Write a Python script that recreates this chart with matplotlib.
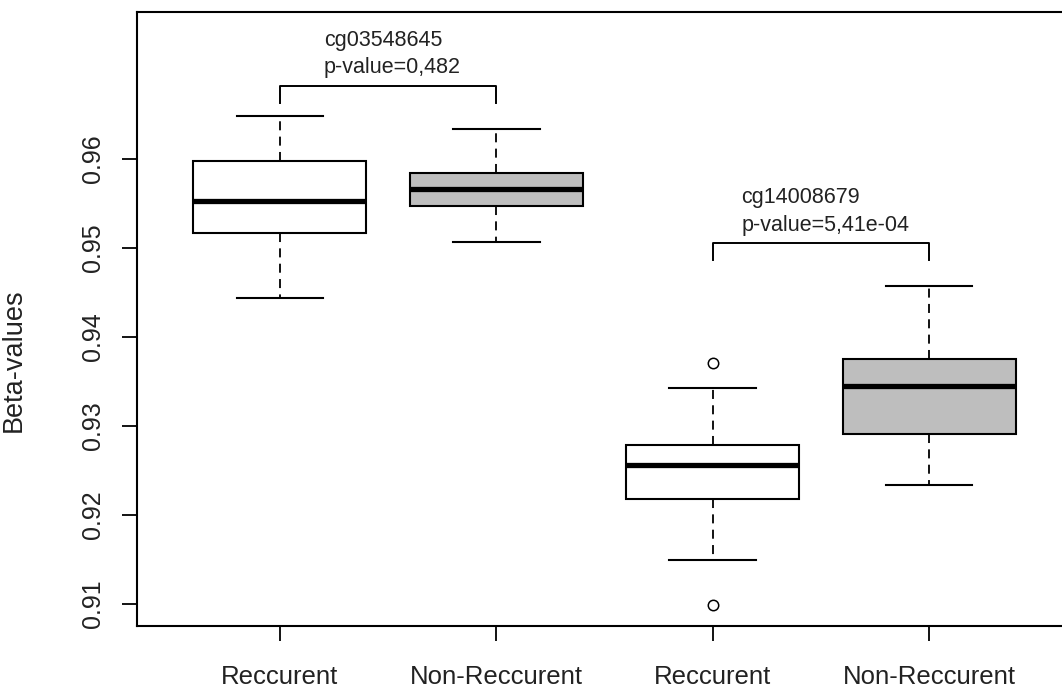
import numpy as np
import matplotlib.pyplot as plt

plt.rcParams['font.family'] = ['Liberation Sans', 'DejaVu Sans']

#%% data
groups   = ['Reccurent', 'Non-Reccurent', 'Reccurent', 'Non-Reccurent']
probes   = ['cg03548645', 'cg14008679']
p_values = ['0,482', '5,41e-04']

whis_lo  = [0.9444, 0.9507, 0.9149, 0.9234]
q1       = [0.9517, 0.9547, 0.9218, 0.9291]
med      = [0.9553, 0.9566, 0.9256, 0.9345]
q3       = [0.9597, 0.9584, 0.9278, 0.9375]
whis_hi  = [0.9648, 0.9634, 0.9343, 0.9457]
outliers = [[], [], [0.9370, 0.9099], []]
fills    = ['white', '#BEBEBE', 'white', '#BEBEBE']

bracket_top  = [0.9682, 0.9505]
bracket_foot = [0.9663, 0.9486]

yticks = [0.91, 0.92, 0.93, 0.94, 0.95, 0.96]

#%% plot
fig = plt.figure(figsize=(10.62, 6.93), dpi=100)
ax = fig.add_axes([137/1062, 67/693, 935/1062, 614/693])

stats = []
for i in range(len(groups)):
    stats.append(dict(med=med[i], q1=q1[i], q3=q3[i],
                      whislo=whis_lo[i], whishi=whis_hi[i], fliers=outliers[i]))

pos = np.arange(1, len(groups) + 1)
bp = ax.bxp(stats, positions=pos, widths=0.8, capwidths=0.4, patch_artist=True,
            boxprops=dict(linewidth=1.5, edgecolor='black'),
            medianprops=dict(color='black', linewidth=3.8, solid_capstyle='butt'),
            whiskerprops=dict(color='black', linewidth=1.3, linestyle=(0, (5, 3.5))),
            capprops=dict(color='black', linewidth=1.5),
            flierprops=dict(marker='o', markersize=7.5, markerfacecolor='none',
                            markeredgecolor='black', markeredgewidth=1.1))
for b, c in zip(bp['boxes'], fills):
    b.set_facecolor(c)

# brackets + labels
for k in range(len(probes)):
    a, b = pos[2*k], pos[2*k + 1]
    ax.plot([a, a, b, b], [bracket_foot[k], bracket_top[k], bracket_top[k], bracket_foot[k]],
            color='black', lw=1.4)
    ax.text((a + b) / 2 + 0.02, bracket_top[k] + 0.0036, probes[k] + '\np-value=' + p_values[k],
            ha='center', va='center', ma='left', fontsize=15.5, linespacing=1.4,
            color='#222222')

ax.set_xlim(0.34, 4.66)
ax.set_ylim(0.9075, 0.9765)
ax.set_xticks(pos)
ax.set_xticklabels(groups, fontsize=18.5, color='#222222')
ax.set_yticks(yticks)
ax.set_yticklabels(['%.2f' % v for v in yticks], rotation=90, va='center',
                   fontsize=18, color='#222222')
ax.tick_params(axis='both', length=11, width=1.3, pad=14)
ax.tick_params(axis='x', pad=17)
ax.tick_params(axis='y', pad=12)
ax.set_ylabel('Beta-values', fontsize=19.5, color='#222222')
ax.yaxis.set_label_coords(-0.1176, 0.433)
for s in ax.spines.values():
    s.set_linewidth(1.5)

fig.savefig('out.png', dpi=100)
